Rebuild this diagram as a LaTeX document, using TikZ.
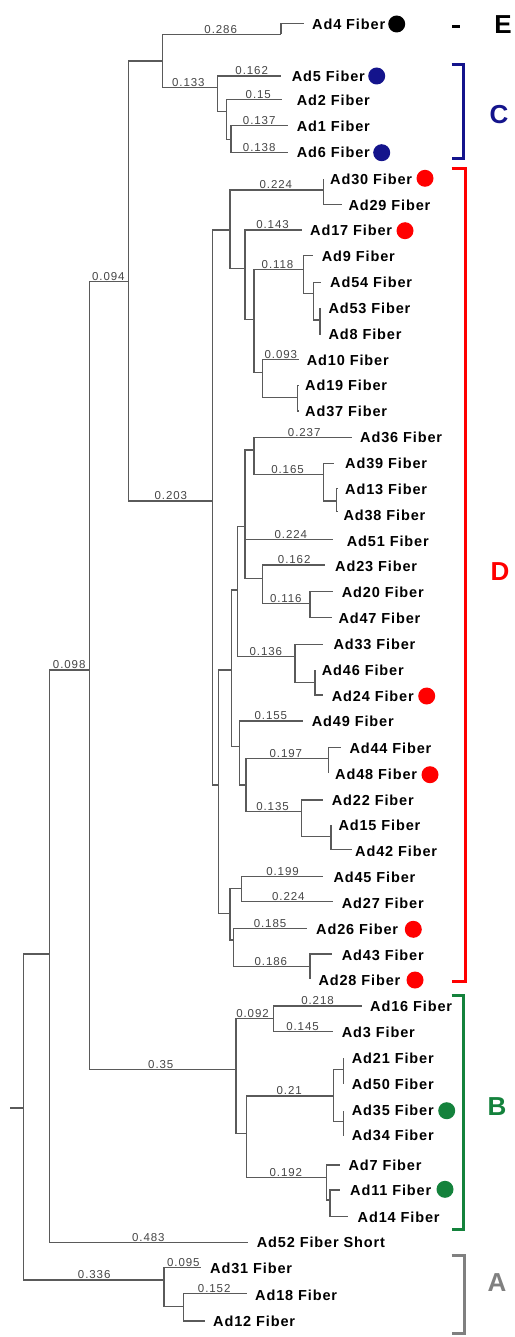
\documentclass[tikz,border=0pt]{standalone}
\usepackage{fontspec}
\setmainfont{Liberation Sans}
\newfontfamily\leaffont[LetterSpace=6]{Liberation Sans}
\newfontfamily\numfont[LetterSpace=8]{Liberation Sans}
\definecolor{cE}{RGB}{0,0,0}
\definecolor{cC}{RGB}{20,20,140}
\definecolor{cD}{RGB}{255,0,0}
\definecolor{cB}{RGB}{20,130,60}
\definecolor{cA}{RGB}{128,128,128}
\definecolor{treecol}{RGB}{90,90,90}
\definecolor{numcol}{RGB}{70,70,70}
\tikzset{
 br/.style={draw=treecol, line width=1.1pt},
 leaf/.style={anchor=west, inner sep=0pt, font=\leaffont\bfseries\fontsize{14.5}{16}\selectfont},
 bl/.style={anchor=south, inner sep=0.8pt, text=numcol, font=\numfont\fontsize{11.5}{12}\selectfont},
 dot/.style={circle, inner sep=0pt, minimum size=17pt},
 brk/.style={line width=3pt},
 grp/.style={font=\bfseries\fontsize{26}{28}\selectfont}
}
\begin{document}
\begin{tikzpicture}[x=1pt,y=-1pt]
\useasboundingbox (0,0) rectangle (514,1337);
\fill[white] (0,0) rectangle (514,1337);
% ---------- internal nodes ----------
\coordinate (r0) at (10,1108);
\coordinate (r) at (23.3,1108);
\coordinate (n49) at (49.3,954);
\coordinate (n89) at (89.3,670);
\coordinate (n128) at (128.3,281.7);
\coordinate (nEC) at (162.3,61);
\coordinate (nE) at (281,34.3);
\coordinate (nC) at (217.7,87.7);
\coordinate (nC2) at (226.7,111.7);
\coordinate (nC3) at (231,139.3);
\coordinate (nD) at (212.7,501);
\coordinate (nD1) at (230,230);
\coordinate (n30) at (323.3,190);
\coordinate (n17) at (245,268.3);
\coordinate (n118) at (254,319.3);
\coordinate (n9) at (303.3,269.3);
\coordinate (n54) at (313.3,293.3);
\coordinate (n53) at (320,320);
\coordinate (n10) at (262.3,372.3);
\coordinate (n19) at (297.7,397.7);
\coordinate (nD2) at (218.5,785);
\coordinate (n231) at (231.7,670);
\coordinate (n237) at (237.3,590);
\coordinate (n245) at (245,526.7);
\coordinate (n254) at (254,450);
\coordinate (n323) at (323.3,474.3);
\coordinate (n336) at (336.7,501);
\coordinate (n262) at (262.3,578.3);
\coordinate (n310) at (310,603.3);
\coordinate (n295) at (295,656.7);
\coordinate (n315) at (315,682.7);
\coordinate (n239) at (239.3,746.7);
\coordinate (n246) at (246,785);
\coordinate (n328) at (328.3,758.3);
\coordinate (n301) at (301.7,811.7);
\coordinate (n331) at (331,836.7);
\coordinate (n230) at (230,913.3);
\coordinate (n241) at (241.7,888.3);
\coordinate (n233) at (233.3,940);
\coordinate (n310b) at (310,966.7);
\coordinate (nB) at (236,1069.3);
\coordinate (n273) at (273.3,1018.3);
\coordinate (n246b) at (246.7,1133.3);
\coordinate (n333) at (333.3,1096);
\coordinate (n21) at (343.3,1069.3);
\coordinate (n35) at (343.3,1121.7);
\coordinate (n326) at (326.7,1177.3);
\coordinate (n330) at (330,1200);
\coordinate (nA) at (164,1280);
\coordinate (n184) at (183.7,1306.7);
% ---------- leaf ends ----------
\coordinate (lAd4) at (304,23.3);
\coordinate (lAd5) at (281,76);
\coordinate (lAd2) at (281.7,99.3);
\coordinate (lAd1) at (288.3,125.7);
\coordinate (lAd6) at (288.3,152.3);
\coordinate (lAd30) at (323.3,179);
\coordinate (lAd29) at (341.7,204.3);
\coordinate (lAd17) at (301.7,230);
\coordinate (lAd9) at (313.3,255.7);
\coordinate (lAd54) at (321,282.7);
\coordinate (lAd53) at (321,308.3);
\coordinate (lAd8) at (321,334);
\coordinate (lAd10) at (299,359.3);
\coordinate (lAd19) at (298,385.7);
\coordinate (lAd37) at (298,411);
\coordinate (lAd36) at (351.7,437.3);
\coordinate (lAd39) at (334.3,463.3);
\coordinate (lAd13) at (337,488.3);
\coordinate (lAd38) at (337,511.7);
\coordinate (lAd51) at (333.3,539.3);
\coordinate (lAd23) at (325,565);
\coordinate (lAd20) at (333.3,591.7);
\coordinate (lAd47) at (331.7,617.3);
\coordinate (lAd33) at (323.3,644.3);
\coordinate (lAd46) at (315,670);
\coordinate (lAd24) at (323.3,695);
\coordinate (lAd49) at (303.3,721);
\coordinate (lAd44) at (340.7,747.3);
\coordinate (lAd48) at (328.3,773);
\coordinate (lAd22) at (323.3,800);
\coordinate (lAd15) at (331,825);
\coordinate (lAd42) at (352.3,849.3);
\coordinate (lAd45) at (323.3,876.7);
\coordinate (lAd27) at (333.3,901.7);
\coordinate (lAd26) at (306.7,928.3);
\coordinate (lAd43) at (331.7,954);
\coordinate (lAd28) at (310,979);
\coordinate (lAd16) at (361.7,1006);
\coordinate (lAd3) at (333.3,1031.7);
\coordinate (lAd21) at (343.3,1058);
\coordinate (lAd50) at (343.3,1084);
\coordinate (lAd35) at (343.3,1110.7);
\coordinate (lAd34) at (343.3,1135.7);
\coordinate (lAd7) at (340,1165);
\coordinate (lAd11) at (340,1190);
\coordinate (lAd14) at (348.3,1216.7);
\coordinate (lAd52) at (248.3,1242.3);
\coordinate (lAd31) at (201,1267.7);
\coordinate (lAd18) at (246.7,1293.7);
\coordinate (lAd12) at (205,1321);
% ---------- branches ----------
\draw[br] (r0) -- (r);
\draw[br] (r) |- (n49);
\draw[br] (r) |- (nA);
\draw[br] (n49) |- (n89);
\draw[br] (n49) |- (lAd52);
\draw[br] (n89) |- (n128);
\draw[br] (n89) |- (nB);
\draw[br] (n128) |- (nEC);
\draw[br] (n128) |- (nD);
\draw[br] (nEC) |- (nE);
\draw[br] (nEC) |- (nC);
\draw[br] (nE) |- (lAd4);
\draw[br] (nC) |- (lAd5);
\draw[br] (nC) |- (nC2);
\draw[br] (nC2) |- (lAd2);
\draw[br] (nC2) |- (nC3);
\draw[br] (nC3) |- (lAd1);
\draw[br] (nC3) |- (lAd6);
\draw[br] (nD) |- (nD1);
\draw[br] (nD) |- (nD2);
\draw[br] (nD1) |- (n30);
\draw[br] (nD1) |- (n17);
\draw[br] (n30) |- (lAd30);
\draw[br] (n30) |- (lAd29);
\draw[br] (n17) |- (lAd17);
\draw[br] (n17) |- (n118);
\draw[br] (n118) |- (n9);
\draw[br] (n118) |- (n10);
\draw[br] (n9) |- (lAd9);
\draw[br] (n9) |- (n54);
\draw[br] (n54) |- (lAd54);
\draw[br] (n54) |- (n53);
\draw[br] (n53) |- (lAd53);
\draw[br] (n53) |- (lAd8);
\draw[br] (n10) |- (lAd10);
\draw[br] (n10) |- (n19);
\draw[br] (n19) |- (lAd19);
\draw[br] (n19) |- (lAd37);
\draw[br] (nD2) |- (n231);
\draw[br] (nD2) |- (n230);
\draw[br] (n231) |- (n237);
\draw[br] (n231) |- (n239);
\draw[br] (n237) |- (n245);
\draw[br] (n237) |- (n295);
\draw[br] (n245) |- (n254);
\draw[br] (n245) |- (lAd51);
\draw[br] (n245) |- (n262);
\draw[br] (n254) |- (lAd36);
\draw[br] (n254) |- (n323);
\draw[br] (n323) |- (lAd39);
\draw[br] (n323) |- (n336);
\draw[br] (n336) |- (lAd13);
\draw[br] (n336) |- (lAd38);
\draw[br] (n262) |- (lAd23);
\draw[br] (n262) |- (n310);
\draw[br] (n310) |- (lAd20);
\draw[br] (n310) |- (lAd47);
\draw[br] (n295) |- (lAd33);
\draw[br] (n295) |- (n315);
\draw[br] (n315) |- (lAd46);
\draw[br] (n315) |- (lAd24);
\draw[br] (n239) |- (lAd49);
\draw[br] (n239) |- (n246);
\draw[br] (n246) |- (n328);
\draw[br] (n246) |- (n301);
\draw[br] (n328) |- (lAd44);
\draw[br] (n328) |- (lAd48);
\draw[br] (n301) |- (lAd22);
\draw[br] (n301) |- (n331);
\draw[br] (n331) |- (lAd15);
\draw[br] (n331) |- (lAd42);
\draw[br] (n230) |- (n241);
\draw[br] (n230) |- (n233);
\draw[br] (n241) |- (lAd45);
\draw[br] (n241) |- (lAd27);
\draw[br] (n233) |- (lAd26);
\draw[br] (n233) |- (n310b);
\draw[br] (n310b) |- (lAd43);
\draw[br] (n310b) |- (lAd28);
\draw[br] (nB) |- (n273);
\draw[br] (nB) |- (n246b);
\draw[br] (n273) |- (lAd16);
\draw[br] (n273) |- (lAd3);
\draw[br] (n246b) |- (n333);
\draw[br] (n246b) |- (n326);
\draw[br] (n333) |- (n21);
\draw[br] (n333) |- (n35);
\draw[br] (n21) |- (lAd21);
\draw[br] (n21) |- (lAd50);
\draw[br] (n35) |- (lAd35);
\draw[br] (n35) |- (lAd34);
\draw[br] (n326) |- (lAd7);
\draw[br] (n326) |- (n330);
\draw[br] (n330) |- (lAd11);
\draw[br] (n330) |- (lAd14);
\draw[br] (nA) |- (lAd31);
\draw[br] (nA) |- (n184);
\draw[br] (n184) |- (lAd18);
\draw[br] (n184) |- (lAd12);
% ---------- branch lengths ----------
\node[bl] (b1) at (220.7,34.3) {0.286};
\node[bl] (b2) at (188.3,87.7) {0.133};
\node[bl] (b3) at (251.7,76) {0.162};
\node[bl] (b4) at (258.3,99.3) {0.15};
\node[bl] (b5) at (259.2,125.7) {0.137};
\node[bl] (b6) at (259.2,152.3) {0.138};
\node[bl] (b7) at (275.8,190) {0.224};
\node[bl] (b8) at (272.5,230) {0.143};
\node[bl] (b9) at (108.3,281.7) {0.094};
\node[bl] (b10) at (277.5,269.3) {0.118};
\node[bl] (b11) at (280.8,359.3) {0.093};
\node[bl] (b12) at (304.2,437.3) {0.237};
\node[bl] (b13) at (287.5,474.3) {0.165};
\node[bl] (b14) at (170.8,501) {0.203};
\node[bl] (b15) at (290.8,539.3) {0.224};
\node[bl] (b16) at (294.2,565) {0.162};
\node[bl] (b17) at (285.8,603.3) {0.116};
\node[bl] (b18) at (265.8,656.7) {0.136};
\node[bl] (b19) at (69.2,670) {0.098};
\node[bl] (b20) at (270.8,721) {0.155};
\node[bl] (b21) at (285.8,758.3) {0.197};
\node[bl] (b22) at (272.5,811.7) {0.135};
\node[bl] (b23) at (282.5,876.7) {0.199};
\node[bl] (b24) at (288.3,901.7) {0.224};
\node[bl] (b25) at (270,928.3) {0.185};
\node[bl] (b26) at (270.8,966.7) {0.186};
\node[bl] (b27) at (317.5,1006) {0.218};
\node[bl] (b28) at (252.5,1018.3) {0.092};
\node[bl] (b29) at (302.5,1031.7) {0.145};
\node[bl] (b30) at (160.8,1069.3) {0.35};
\node[bl] (b31) at (289.2,1096) {0.21};
\node[bl] (b32) at (285.8,1177.3) {0.192};
\node[bl] (b33) at (148.3,1242.3) {0.483};
\node[bl] (b34) at (183.3,1267.7) {0.095};
\node[bl] (b35) at (94.2,1280) {0.336};
\node[bl] (b36) at (214.2,1293.7) {0.152};
% ---------- leaf labels ----------
\node[leaf] (tAd4) at (312,24) {Ad4 Fiber};
\node[leaf] (tAd5) at (291.7,76) {Ad5 Fiber};
\node[leaf] (tAd2) at (296.7,100) {Ad2 Fiber};
\node[leaf] (tAd1) at (296.7,126) {Ad1 Fiber};
\node[leaf] (tAd6) at (296.7,152.5) {Ad6 Fiber};
\node[leaf] (tAd30) at (330,179) {Ad30 Fiber};
\node[leaf] (tAd29) at (348.3,205) {Ad29 Fiber};
\node[leaf] (tAd17) at (310,230.5) {Ad17 Fiber};
\node[leaf] (tAd9) at (321.7,256) {Ad9 Fiber};
\node[leaf] (tAd54) at (330,282.7) {Ad54 Fiber};
\node[leaf] (tAd53) at (328.3,308.3) {Ad53 Fiber};
\node[leaf] (tAd8) at (328.3,334.5) {Ad8 Fiber};
\node[leaf] (tAd10) at (306.7,360) {Ad10 Fiber};
\node[leaf] (tAd19) at (305,385.7) {Ad19 Fiber};
\node[leaf] (tAd37) at (305,411) {Ad37 Fiber};
\node[leaf] (tAd36) at (360,437.3) {Ad36 Fiber};
\node[leaf] (tAd39) at (345,463.5) {Ad39 Fiber};
\node[leaf] (tAd13) at (345,489) {Ad13 Fiber};
\node[leaf] (tAd38) at (343.3,515) {Ad38 Fiber};
\node[leaf] (tAd51) at (346.7,541) {Ad51 Fiber};
\node[leaf] (tAd23) at (335,566.5) {Ad23 Fiber};
\node[leaf] (tAd20) at (341.7,592.5) {Ad20 Fiber};
\node[leaf] (tAd47) at (338.3,618.3) {Ad47 Fiber};
\node[leaf] (tAd33) at (333.3,644.3) {Ad33 Fiber};
\node[leaf] (tAd46) at (321.7,670.5) {Ad46 Fiber};
\node[leaf] (tAd24) at (331.7,696) {Ad24 Fiber};
\node[leaf] (tAd49) at (311.7,721.5) {Ad49 Fiber};
\node[leaf] (tAd44) at (349.3,748) {Ad44 Fiber};
\node[leaf] (tAd48) at (335,774) {Ad48 Fiber};
\node[leaf] (tAd22) at (331.7,800) {Ad22 Fiber};
\node[leaf] (tAd15) at (338.3,825) {Ad15 Fiber};
\node[leaf] (tAd42) at (355,851) {Ad42 Fiber};
\node[leaf] (tAd45) at (333.3,877) {Ad45 Fiber};
\node[leaf] (tAd27) at (341.7,903) {Ad27 Fiber};
\node[leaf] (tAd26) at (316,929) {Ad26 Fiber};
\node[leaf] (tAd43) at (341.7,955) {Ad43 Fiber};
\node[leaf] (tAd28) at (318.3,980) {Ad28 Fiber};
\node[leaf] (tAd16) at (370,1006) {Ad16 Fiber};
\node[leaf] (tAd3) at (341.7,1032) {Ad3 Fiber};
\node[leaf] (tAd21) at (351.7,1058) {Ad21 Fiber};
\node[leaf] (tAd50) at (351.7,1084) {Ad50 Fiber};
\node[leaf] (tAd35) at (351.7,1110.7) {Ad35 Fiber};
\node[leaf] (tAd34) at (351.7,1135.7) {Ad34 Fiber};
\node[leaf] (tAd7) at (348.3,1165) {Ad7 Fiber};
\node[leaf] (tAd11) at (350,1190) {Ad11 Fiber};
\node[leaf] (tAd14) at (357.5,1217) {Ad14 Fiber};
\node[leaf] (tAd52) at (256.7,1242.3) {Ad52 Fiber Short};
\node[leaf] (tAd31) at (210,1268) {Ad31 Fiber};
\node[leaf] (tAd18) at (255,1295) {Ad18 Fiber};
\node[leaf] (tAd12) at (213,1321) {Ad12 Fiber};
% ---------- dots ----------
\node[dot, fill=cE] (dAd4) at (396.7,24) {};
\node[dot, fill=cC] (dAd5) at (376.7,76) {};
\node[dot, fill=cC] (dAd6) at (381.7,152.7) {};
\node[dot, fill=cD] (dAd30) at (425,178.3) {};
\node[dot, fill=cD] (dAd17) at (405,230.7) {};
\node[dot, fill=cD] (dAd24) at (426.7,696) {};
\node[dot, fill=cD] (dAd48) at (430,774.7) {};
\node[dot, fill=cD] (dAd26) at (413.3,929.3) {};
\node[dot, fill=cD] (dAd28) at (415,980) {};
\node[dot, fill=cB] (dAd35) at (446.7,1110.7) {};
\node[dot, fill=cB] (dAd11) at (445,1189.3) {};
% ---------- group brackets ----------
\draw[brk, cE] (452,26.5) -- (460,26.5);
\node[grp, text=cE] (gE) at (503,25) {E};
\draw[brk, cC] (451.7,65) -- (463,65) -- (463,159) -- (451.7,159);
\node[grp, text=cC] (gC) at (499,115) {C};
\draw[brk, cD] (451.7,168.3) -- (465,168.3) -- (465,981.7) -- (451.7,981.7);
\node[grp, text=cD] (gD) at (500,572) {D};
\draw[brk, cB] (451.7,995) -- (463.3,995) -- (463.3,1229) -- (451.7,1229);
\node[grp, text=cB] (gB) at (497,1107) {B};
\draw[brk, cA] (451.7,1255.7) -- (464,1255.7) -- (464,1333.3) -- (451.7,1333.3);
\node[grp, text=cA] (gA) at (497,1283) {A};
\end{tikzpicture}
\end{document}
